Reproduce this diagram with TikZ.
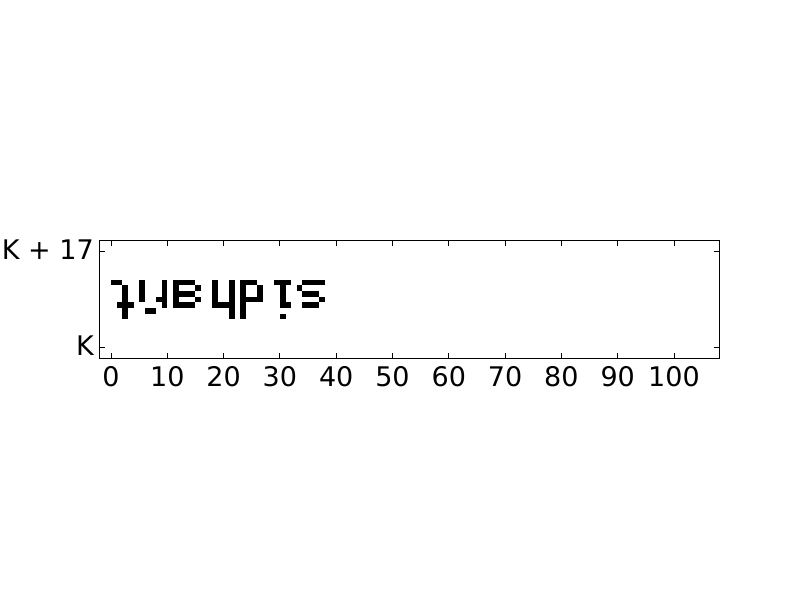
\documentclass[tikz,border=0pt]{standalone}
\usepackage{fontspec}
\setmainfont{DejaVu Sans}
\begin{document}
\begin{tikzpicture}[x=1pt,y=1pt,
  frame/.style={draw=black,line width=1pt},
  tickmark/.style={draw=black,line width=1pt},
  xlab/.style={anchor=north,inner sep=0pt,font=\fontsize{27}{30}\selectfont},
  ylab/.style={anchor=east,inner sep=0pt,font=\fontsize{27}{30}\selectfont},
  cell/.style={fill=black}]
\useasboundingbox (0,0) rectangle (800,600);
\fill[white] (0,0) rectangle (800,600);
\begin{scope}[x=5.63pt,y=5.63pt,shift={(111pt,252.7pt)}]
  \foreach \c/\r in {0/11,1/11,2/10,2/9,2/8,2/7,2/6,2/5,1/7,3/7,
    5/8,5/9,5/10,5/11,6/6,7/6,
    8/8,9/7,9/8,9/9,9/10,9/11,
    11/7,11/8,11/9,11/10,11/11,12/11,13/11,14/11,12/9,13/9,14/9,12/7,13/7,14/7,15/10,15/8,
    18/7,18/8,18/9,18/10,18/11,19/7,20/7,21/5,21/6,21/7,21/8,21/9,21/10,21/11,
    23/5,23/6,23/7,23/8,23/9,23/10,23/11,24/11,25/11,26/8,26/9,26/10,24/8,25/8,
    29/11,30/11,31/11,30/7,30/8,30/9,30/10,31/7,30/5,
    33/10,34/11,35/11,36/11,37/11,34/9,35/9,36/9,37/8,34/7,35/7,36/7}
    {\fill[cell] (\c,\r) rectangle ++(1,1);}
  \draw[frame] (-2,-2) rectangle (108,19);
  \foreach \v in {0,10,...,100}{
    \draw[tickmark] (\v,-2) -- ++(0,5.5pt);
    \draw[tickmark] (\v,19) -- ++(0,-5.5pt);
    \node[xlab] (xl\v) at (\v,-3.45) {\v};
  }
  \foreach \v in {0,17}{
    \draw[tickmark] (-2,\v) -- ++(5.5pt,0);
    \draw[tickmark] (108,\v) -- ++(-5.5pt,0);
  }
  \node[ylab] (ylK) at (-3.02,0.27) {K};
  \node[ylab] (ylKs) at (-3.02,17.27) {K + 17};
\end{scope}
\end{tikzpicture}
\end{document}
